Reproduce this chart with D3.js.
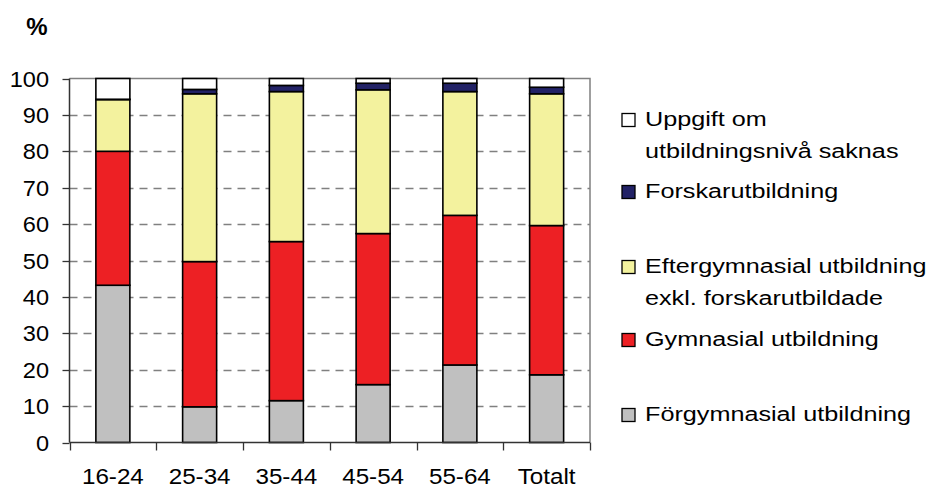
<!DOCTYPE html>
<html>
<head>
<meta charset="utf-8">
<script src="https://cdn.jsdelivr.net/npm/d3@7"></script>
<style>
  html, body { margin: 0; padding: 0; background: #fff; }
  svg { display: block; }
  text { font-family: "Liberation Sans", Arial, sans-serif; fill: #000; }
</style>
</head>
<body>
<svg id="chart" width="936" height="488"></svg>
<script>
// Age groups along the x axis
const categories = ["16-24", "25-34", "35-44", "45-54", "55-64", "Totalt"];

// Share (%) per education level, bottom to top of each stack
const forgymnasial   = [43.2,  9.8, 11.5, 15.9, 21.3, 18.6];
const gymnasial      = [36.8, 39.9, 43.7, 41.5, 41.1, 41.0];
const eftergymnasial = [14.2, 46.1, 41.2, 39.5, 34.0, 36.2];
const forskar        = [ 0.1,  1.2,  1.7,  1.8,  2.3,  1.8];
const saknas         = [ 5.7,  3.0,  1.9,  1.3,  1.3,  2.4];

const seriesKeys = ["forgym", "gym", "efter", "forskar", "saknas"];
const seriesColors = ["#C0C0C0", "#ED2024", "#F3F29E", "#222266", "#FFFFFF"];

// Legend entries, top to bottom
const legendLabels = [
  ["Uppgift om", "utbildningsnivå saknas"],
  ["Forskarutbildning"],
  ["Eftergymnasial utbildning", "exkl. forskarutbildade"],
  ["Gymnasial utbildning"],
  ["Förgymnasial utbildning"]
];
const legendColors = ["#FFFFFF", "#222266", "#F3F29E", "#ED2024", "#C0C0C0"];

const yTicks = [0, 10, 20, 30, 40, 50, 60, 70, 80, 90, 100];

const rows = categories.map((c, i) => ({
  cat: c,
  forgym: forgymnasial[i],
  gym: gymnasial[i],
  efter: eftergymnasial[i],
  forskar: forskar[i],
  saknas: saknas[i]
}));

const svg = d3.select("#chart");
const plot = { left: 69.5, right: 590, top: 78.5, bottom: 442.5 };

const x = d3.scaleBand()
  .domain(categories)
  .range([plot.left, plot.right])
  .paddingInner(0.608)
  .paddingOuter(0.304);

const y = d3.scaleLinear().domain([0, 100]).range([plot.bottom, plot.top]);

// Text with slight horizontal widening
function stretchedText(g, tx, ty, str, size, anchor, sx, weight) {
  return g.append("text")
    .attr("transform", `translate(${tx},${ty}) scale(${sx},1)`)
    .attr("text-anchor", anchor)
    .style("font-size", size + "px")
    .style("font-weight", weight || "normal")
    .text(str);
}

// Dashed gridlines
svg.append("g")
  .selectAll("line")
  .data(yTicks.filter(t => t > 0 && t < 100))
  .join("line")
  .attr("x1", plot.left).attr("x2", plot.right)
  .attr("y1", d => Math.round(y(d)) + 0.5).attr("y2", d => Math.round(y(d)) + 0.5)
  .attr("stroke", "#808080")
  .attr("stroke-width", 1.3)
  .attr("stroke-dasharray", "8,6");

// Plot frame (top and right edges)
svg.append("path")
  .attr("d", `M${plot.left},${plot.top}H${plot.right}V${plot.bottom}`)
  .attr("fill", "none")
  .attr("stroke", "#808080")
  .attr("stroke-width", 1.5);

// Stacked bars
const stack = d3.stack().keys(seriesKeys);
const layers = stack(rows);

svg.append("g")
  .selectAll("g")
  .data(layers)
  .join("g")
  .attr("fill", (d, i) => seriesColors[i])
  .selectAll("rect")
  .data(d => d)
  .join("rect")
  .attr("x", d => x(d.data.cat))
  .attr("width", x.bandwidth())
  .attr("y", d => y(d[1]))
  .attr("height", d => y(d[0]) - y(d[1]))
  .attr("stroke", "#000")
  .attr("stroke-width", 1.6);

// Y axis
const yAxisG = svg.append("g");
yAxisG.append("line")
  .attr("x1", plot.left).attr("x2", plot.left)
  .attr("y1", plot.top).attr("y2", plot.bottom)
  .attr("stroke", "#333").attr("stroke-width", 1.5);
yAxisG.selectAll("line.tick")
  .data(yTicks)
  .join("line")
  .attr("class", "tick")
  .attr("x1", plot.left - 7).attr("x2", plot.left)
  .attr("y1", d => Math.round(y(d)) + 0.5).attr("y2", d => Math.round(y(d)) + 0.5)
  .attr("stroke", "#333").attr("stroke-width", 1.3);
yTicks.forEach(t => {
  stretchedText(yAxisG, 49, y(t) + 8, String(t), 22, "end", 1.07);
});

// X axis
const xAxisG = svg.append("g");
xAxisG.append("line")
  .attr("x1", plot.left).attr("x2", plot.right)
  .attr("y1", plot.bottom).attr("y2", plot.bottom)
  .attr("stroke", "#333").attr("stroke-width", 1.6);
const step = x.step();
const bounds = d3.range(categories.length + 1).map(i => plot.left + i * step);
xAxisG.selectAll("line.tick")
  .data(bounds)
  .join("line")
  .attr("class", "tick")
  .attr("x1", d => Math.round(d) + 0.5).attr("x2", d => Math.round(d) + 0.5)
  .attr("y1", plot.bottom).attr("y2", plot.bottom + 8)
  .attr("stroke", "#333").attr("stroke-width", 1.3);
categories.forEach(c => {
  stretchedText(xAxisG, x(c) + x.bandwidth() / 2, 484, c, 22, "middle", 1.1);
});

// Unit label
stretchedText(svg, 37, 35, "%", 24, "middle", 1.0, "bold");

// Legend
const legendG = svg.append("g");
const legendRowY = [120, 192, 267, 340, 415];
legendLabels.forEach((lines, i) => {
  const cy = legendRowY[i];
  legendG.append("rect")
    .attr("x", 622).attr("y", cy - 6.5)
    .attr("width", 13).attr("height", 13)
    .attr("fill", legendColors[i])
    .attr("stroke", "#000").attr("stroke-width", 1.3);
  lines.forEach((ln, j) => {
    stretchedText(legendG, 645, cy + 5.5 + j * 32, ln, 21, "start", 1.2);
  });
});
</script>
</body>
</html>
